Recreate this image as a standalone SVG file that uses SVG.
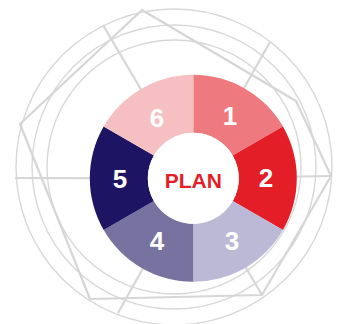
<svg xmlns="http://www.w3.org/2000/svg" width="339" height="324" viewBox="0 0 339 324">
  <style>
    .ring { fill: none; stroke: #d8d8d8; stroke-width: 1.4; }
    .wire { fill: none; stroke: #d6d6d6; stroke-width: 2.2; stroke-linejoin: round; }
    .seg-label { font-family: "Liberation Sans", Arial, sans-serif; font-weight: bold; font-size: 26px; fill: #ffffff; text-anchor: middle; }
    .plan-label { font-family: "Liberation Sans", Arial, sans-serif; font-weight: bold; font-size: 21px; fill: #e31e26; text-anchor: middle; }
  </style>
  <rect width="339" height="324" fill="#ffffff"/>
  <g id="background">
    <circle class="ring" cx="174" cy="167" r="158"/>
    <circle class="ring" cx="174" cy="167" r="142"/>
    <circle class="ring" cx="174" cy="167" r="127"/>
    <polygon class="wire" points="142,10 296,101 331,176 262,295 90,299 20,124"/>
  </g>
  <g id="connectors">
    <line class="wire" x1="193.3" y1="178.3" x2="331" y2="176"/>
    <line class="wire" x1="193.3" y1="178.3" x2="270" y2="42"/>
    <line class="wire" x1="193.3" y1="178.3" x2="103" y2="25"/>
    <line class="wire" x1="193.3" y1="178.3" x2="15" y2="178"/>
    <line class="wire" x1="193.3" y1="178.3" x2="118" y2="313"/>
    <line class="wire" x1="193.3" y1="178.3" x2="262" y2="295"/>
  </g>
  <g id="node-1">
    <path fill="#ee7a7f" d="M193.3,74.8 A103.5,103.5 0 0 1 282.93,126.55 L232.70,155.55 A45.5,45.5 0 0 0 193.3,132.8 Z"/>
    <text class="seg-label" x="230" y="125">1</text>
  </g>
  <g id="node-2">
    <path fill="#e31e26" d="M282.93,126.55 A103.5,103.5 0 0 1 282.93,230.05 L232.70,201.05 A45.5,45.5 0 0 0 232.70,155.55 Z"/>
    <text class="seg-label" x="266" y="187">2</text>
  </g>
  <g id="node-3">
    <path fill="#bbb9d6" d="M282.93,230.05 A103.5,103.5 0 0 1 193.3,281.8 L193.3,223.8 A45.5,45.5 0 0 0 232.70,201.05 Z"/>
    <text class="seg-label" x="232" y="250">3</text>
  </g>
  <g id="node-4">
    <path fill="#77729f" d="M193.3,281.8 A103.5,103.5 0 0 1 103.67,230.05 L153.90,201.05 A45.5,45.5 0 0 0 193.3,223.8 Z"/>
    <text class="seg-label" x="157" y="250">4</text>
  </g>
  <g id="node-5">
    <path fill="#1d1464" d="M103.67,230.05 A103.5,103.5 0 0 1 103.67,126.55 L153.90,155.55 A45.5,45.5 0 0 0 153.90,201.05 Z"/>
    <text class="seg-label" x="120" y="188">5</text>
  </g>
  <g id="node-6">
    <path fill="#f6bfc2" d="M103.67,126.55 A103.5,103.5 0 0 1 193.3,74.8 L193.3,132.8 A45.5,45.5 0 0 0 153.90,155.55 Z"/>
    <text class="seg-label" x="157" y="127">6</text>
  </g>
  <g id="node-plan">
    <circle cx="193.3" cy="178.3" r="45.5" fill="#ffffff"/>
    <text class="plan-label" x="193.3" y="187.7">PLAN</text>
  </g>
</svg>
